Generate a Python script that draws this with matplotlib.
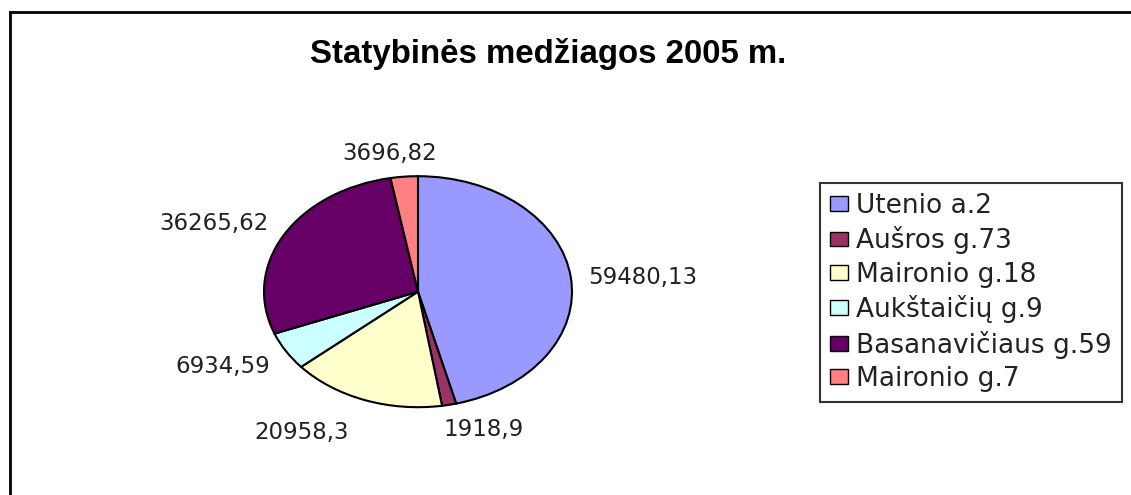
import numpy as np
import matplotlib
matplotlib.use("Agg")
import matplotlib.pyplot as plt
from matplotlib.lines import Line2D
from matplotlib.patches import Patch

# duomenys
pavadinimas = "Statybinės medžiagos 2005 m."
objektai = ["Utenio a.2", "Aušros g.73", "Maironio g.18", "Aukštaičių g.9",
            "Basanavičiaus g.59", "Maironio g.7"]
kiekiai = [59480.13, 1918.9, 20958.3, 6934.59, 36265.62, 3696.82]
etiketes = ["59480,13", "1918,9", "20958,3", "6934,59", "36265,62", "3696,82"]

spalvos = ["#9999FF", "#993366", "#FFFFCC", "#CCFFFF", "#660066", "#FF8080"]
# etikeciu poslinkiai nuo krasto (pikseliais)
poslinkiai = [(72, 0), (34, -25), (-63, -32), (-63, -15), (-70, 12), (-15, 23)]

W, H = 1131, 495
fig = plt.figure(figsize=(W / 100, H / 100), dpi=100)

# remelis
fig.add_artist(Line2D([10 / W, 10 / W], [0, 1 - 12 / H], color="black", lw=2))
fig.add_artist(Line2D([10 / W, 1], [1 - 12 / H, 1 - 12 / H], color="black", lw=2))

fig.text(548 / W, 1 - 54 / H, pavadinimas, ha="center", va="center",
         fontsize=23.8, fontweight="bold", family="Liberation Sans")

cx, cy, a, b = 418, 291.7, 154, 115.5
ax = fig.add_axes([(cx - a) / W, (H - cy - b) / H, 2 * a / W, 2 * b / H])
wedges, _ = ax.pie(kiekiai, colors=spalvos, startangle=90, counterclock=False,
                   wedgeprops=dict(edgecolor="black", linewidth=1.5))
ax.set_aspect("auto")
ax.set_xlim(-1, 1)
ax.set_ylim(-1, 1)
ax.axis("off")

for w, txt, (dx, dy) in zip(wedges, etiketes, poslinkiai):
    ang = np.deg2rad((w.theta1 + w.theta2) / 2)
    ax.annotate(txt, xy=(np.cos(ang), np.sin(ang)), xytext=(dx * 0.72, dy * 0.72),
                textcoords="offset points", ha="center", va="center",
                fontsize=16.5, color="#222222", annotation_clip=False)

rankenos = [Patch(facecolor=c, edgecolor="black", linewidth=1) for c in spalvos]
leg = fig.legend(rankenos, objektai, loc="upper left",
                 bbox_to_anchor=(820 / W, 1 - 183 / H), fontsize=19,
                 frameon=True, fancybox=False, edgecolor="black",
                 handlelength=0.68, handleheight=0.49, handletextpad=0.32,
                 labelspacing=0.28, borderpad=0.38, borderaxespad=0)
leg.get_frame().set_linewidth(1.5)
for t in leg.get_texts():
    t.set_color("#222222")

fig.savefig("out.png", dpi=100)
